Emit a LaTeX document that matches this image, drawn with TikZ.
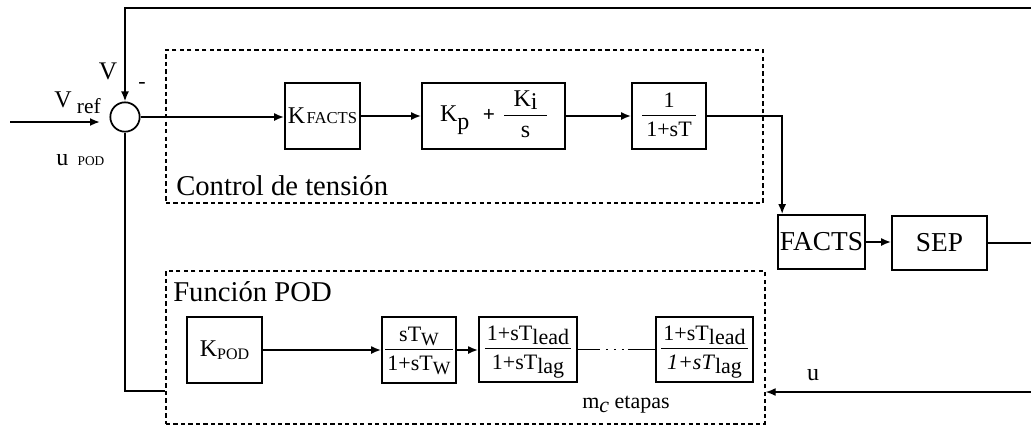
\documentclass[tikz,border=0pt]{standalone}
\usepackage{fontspec}
\setmainfont{Liberation Serif}
\usetikzlibrary{arrows.meta}

% lowered subscript in text mode
\newcommand{\sbx}[2][3pt]{\raisebox{-#1}{#2}}
% stacked fraction with a heavy bar; optional side padding of the bar
\newcommand{\frc}[3][1.5pt]{{\setlength{\arrayrulewidth}{1.1pt}\renewcommand{\arraystretch}{1.3}%
  \begin{tabular}{@{\hspace{#1}}c@{\hspace{#1}}}#2\\[-1pt]\hline#3\end{tabular}}}
\newcommand{\fs}[1]{\fontsize{#1}{#1}\selectfont}

\begin{document}
\begin{tikzpicture}[x=0.75pt, y=-0.75pt, font=\fs{16.5},
  blk/.style={draw, line width=1.3pt, inner sep=0pt},
  dbox/.style={draw, line width=1.1pt, dash pattern=on 3.2pt off 2.4pt, inner sep=0pt},
  sumc/.style={circle, draw, line width=1.3pt, minimum size=22pt, inner sep=0pt},
  wire/.style={line width=1.4pt},
  thinw/.style={line width=1pt},
  arr/.style={wire, -{Latex[length=7.5pt,width=6pt]}},
  tarr/.style={thinw, -{Latex[length=7.5pt,width=6pt]}},
  lbl/.style={inner sep=0pt}]
\useasboundingbox (0,0) rectangle (1031,426);

% grouping frames
\node[dbox, minimum width=447.75pt, minimum height=114.75pt] (ctrl) at (464.5,126.5) {};
\node[dbox, minimum width=449.25pt, minimum height=114.75pt] (pod) at (465.5,347.5) {};
\node[lbl, anchor=base west, font=\fs{21.5}] (ctrllbl) at (176,195) {Control de tensión};
\node[lbl, anchor=base west, font=\fs{21.5}] (podlbl) at (173,301) {Función POD};

% summing junction
\node[sumc] (sum) at (125,117) {};

% voltage control chain
\node[blk, minimum width=56.25pt, minimum height=49.5pt, font=\fs{18}] (kf) at (322.5,116)
  {K\hspace{1pt}{\fs{12.5}FACTS}};
\node[blk, minimum width=107.25pt, minimum height=49.5pt, font=\fs{18}] (kp) at (493.5,116)
  {K\sbx[6pt]{p}\hspace{10pt}{\fs{16}\textbf{+}}\hspace{7pt}\frc[7pt]{K\sbx[2pt]{i}}{s}};
\node[blk, minimum width=55.5pt, minimum height=49.5pt] (lp) at (669,116)
  {\frc[3pt]{1}{1+sT}};

% plant
\node[blk, minimum width=65.25pt, minimum height=40.5pt, font=\fs{20.5}] (facts) at (821.5,242) {FACTS};
\node[blk, minimum width=71.25pt, minimum height=40.5pt, font=\fs{20.5}] (sep) at (939.5,243) {SEP};

% POD chain
\node[blk, minimum width=56.25pt, minimum height=49.5pt, font=\fs{18}] (kpod) at (224.5,350)
  {K\sbx[2pt]{\fs{12}POD}};
\node[blk, minimum width=55.5pt, minimum height=49.5pt] (wash) at (419,350)
  {\frc{sT\sbx{\fs{14}W}}{1+sT\sbx{\fs{14}W}}};
\node[blk, minimum width=73.5pt, minimum height=48.75pt] (ll1) at (528,349.5)
  {\frc{1+sT\sbx{lead}}{1+sT\sbx{lag}}};
\node[blk, minimum width=72.75pt, minimum height=48.75pt] (ll2) at (704.5,349.5)
  {\frc{1+sT\sbx{lead}}{\textit{1+sT}\sbx{lag}}};

% signal labels
\node[lbl, font=\fs{19}] (vlbl) at (108,71) {V};
\node[lbl] (minus) at (142,85) {-};
\node[lbl, anchor=base west, font=\fs{18}] (vref) at (54,107) {V\hspace{4pt}\sbx[5pt]{\fs{16}ref}};
\node[lbl, anchor=base west, font=\fs{18}] (upod) at (56,165) {u\hspace{7pt}{\fs{10}POD}};
\node[lbl, font=\fs{18}] (ulbl) at (813,375) {u};
\node[lbl, anchor=base] (stages) at (626,408) {m\sbx[3pt]{\textit{c}} etapas};

% connectors
\coordinate (fbR) at (1031,8);
\coordinate (vin) at (10,122);
\coordinate (vtip) at (100,122);
\coordinate (sepR) at (1031,243);
\coordinate (uin) at (1031,392);

\draw[arr] (fbR) -| (sum.north);
\draw[arr] (vin) -- (vtip);
\draw[arr] (sum.east) -- (sum.east -| kf.west);
\draw[arr] (kf.east) -- (kp.west);
\draw[arr] (kp.east) -- (lp.west);
\draw[arr] (lp.east) -| ([xshift=3.75pt]facts.north west);
\draw[arr] (facts.east) -- (facts.east -| sep.west);
\draw[thinw] (sep.east) -- (sepR);
\draw[arr] (kpod.east) -- (wash.west);
\draw[arr] (wash.east) -- (wash.east -| ll1.west);
\draw[wire, dash pattern=on 16.5pt off 4.5pt on 1.5pt off 4.5pt on 1.5pt off 4.5pt on 1.5pt off 3pt on 30pt]
  (ll1.east) -- (ll2.west);
\draw[tarr] (uin) -- (uin -| pod.east);
\draw[thinw] (sum.south) |- ([yshift=-32.6pt]pod.west);
\end{tikzpicture}
\end{document}
